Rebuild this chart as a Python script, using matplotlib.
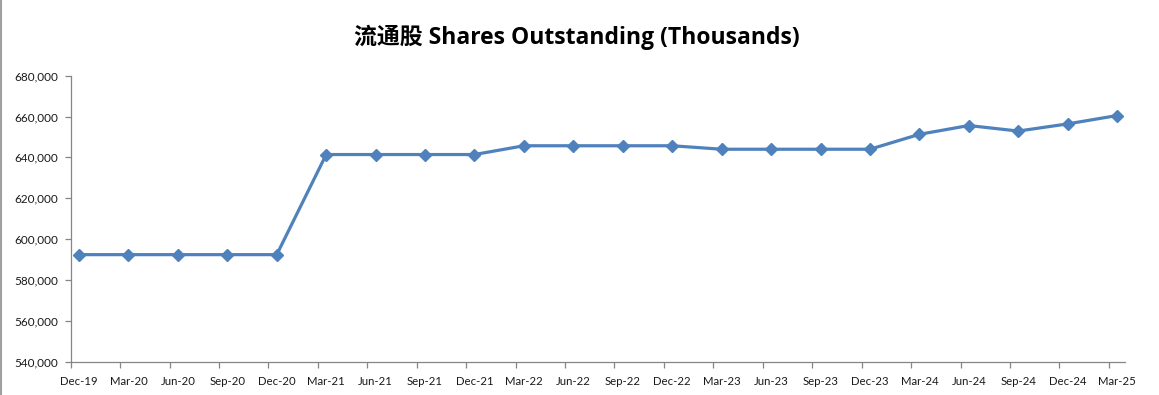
import matplotlib
matplotlib.use("Agg")
import matplotlib.pyplot as plt
from matplotlib.ticker import FuncFormatter, FixedLocator
from matplotlib.lines import Line2D

plt.rcParams['font.family'] = ['Lato', 'Noto Sans CJK SC', 'DejaVu Sans']

periods = ["Dec-19", "Mar-20", "Jun-20", "Sep-20", "Dec-20",
           "Mar-21", "Jun-21", "Sep-21", "Dec-21",
           "Mar-22", "Jun-22", "Sep-22", "Dec-22",
           "Mar-23", "Jun-23", "Sep-23", "Dec-23",
           "Mar-24", "Jun-24", "Sep-24", "Dec-24", "Mar-25"]
shares = [592400, 592400, 592400, 592400, 592400,
          641400, 641400, 641400, 641400,
          645700, 645700, 645700, 645700,
          644000, 644000, 644000, 644000,
          651300, 655600, 652900, 656400, 660500]
y_ticks = [540000, 560000, 580000, 600000, 620000, 640000, 660000, 680000]
title = "流通股 Shares Outstanding (Thousands)"

fig = plt.figure(figsize=(11.59, 3.95), dpi=100)
ax = fig.add_axes([0.061, 0.0843, 0.9097, 0.7241])

x = list(range(len(periods)))
ax.plot(x, shares, color="#4F81BD", linewidth=2.3, marker="D", markersize=6.5,
        markerfacecolor="#4F81BD", markeredgecolor="#4F81BD", zorder=3)

off = 0.168
ax.set_xlim(-off, len(periods) - 1 + 0.16)
ax.set_ylim(y_ticks[0], y_ticks[-1])
ax.set_yticks(y_ticks)
ax.yaxis.set_major_formatter(FuncFormatter(lambda v, p: f"{int(v):,}"))

ax.set_xticks(x)
ax.set_xticklabels(periods)
ax.xaxis.set_minor_locator(FixedLocator([i - off for i in x]))
ax.tick_params(axis='x', which='major', length=0, pad=10, labelsize=8.2, labelcolor="#1a1a1a")
ax.tick_params(axis='x', which='minor', length=4, width=0.9, color="#868686")
ax.tick_params(axis='y', length=4, width=0.9, color="#868686", pad=5, labelsize=8.5, labelcolor="#1a1a1a")

for s in ["top", "right"]:
    ax.spines[s].set_visible(False)
for s in ["left", "bottom"]:
    ax.spines[s].set_color("#868686")
    ax.spines[s].set_linewidth(0.9)

fig.text(0.4975, 0.905, title, ha="center", va="center", fontsize=16.5, fontweight="bold",
         color="#000000", family=['Open Sans', 'Noto Sans CJK SC', 'DejaVu Sans'])

fig.add_artist(Line2D([0.001, 0.001], [0, 1], transform=fig.transFigure, color="#a0a0a0", linewidth=1.5))

fig.savefig("out.png", dpi=100)
